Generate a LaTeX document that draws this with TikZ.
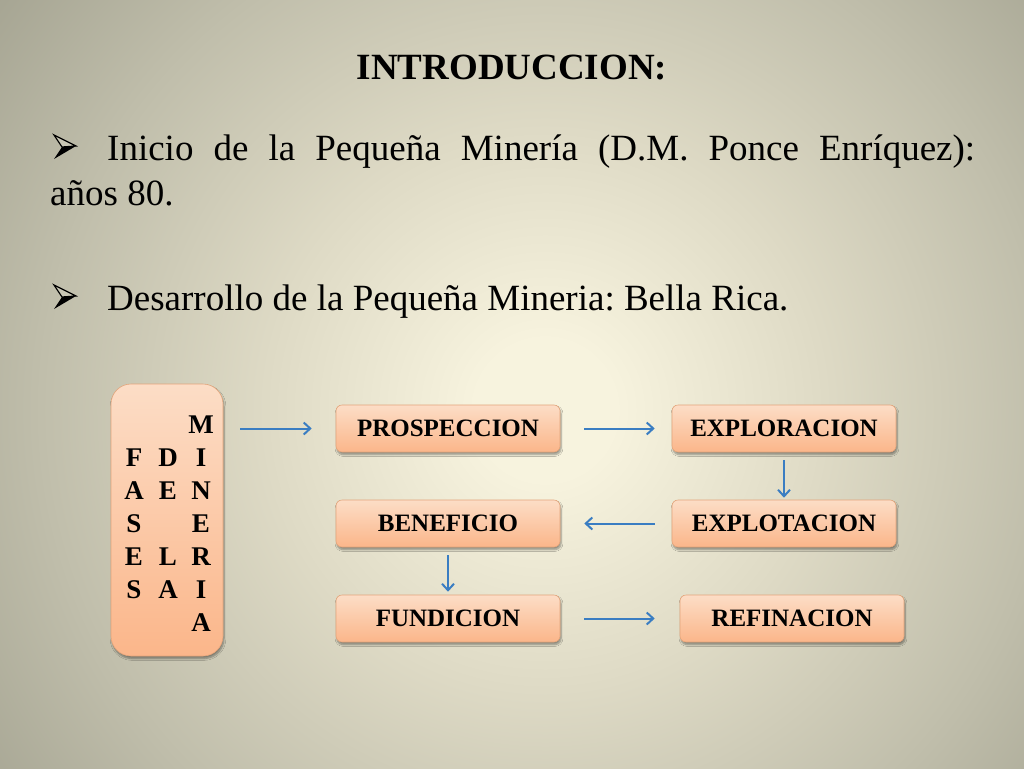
\documentclass[tikz,border=0pt]{standalone}
\usepackage{fontspec}
\setmainfont{Liberation Serif}
\usetikzlibrary{arrows.meta,shadows.blur}
\definecolor{bgin}{HTML}{F7F3DE}
\definecolor{bgmid}{HTML}{DEDAC5}
\definecolor{bgmid2}{HTML}{C0BEAB}
\definecolor{bgout}{HTML}{A4A391}
\definecolor{boxtop}{HTML}{FCDDC6}
\definecolor{boxbot}{HTML}{FBB68A}
\definecolor{boxline}{HTML}{E3A47A}
\definecolor{arrowblue}{HTML}{3A7DC2}
\definecolor{facet}{HTML}{C8C6B4}
\pgfdeclareradialshading{bgshade}{\pgfpoint{0bp}{0bp}}{color(0bp)=(bgin); color(2.5bp)=(bgin); color(10bp)=(bgmid); color(18bp)=(bgmid2); color(25bp)=(bgout); color(50bp)=(bgout)}
\tikzset{
  stage/.style={rounded corners=6pt, minimum width=224pt, minimum height=47pt,
    top color=boxtop, bottom color=boxbot, draw=boxline, line width=0.6pt,
    font=\fontsize{25}{28}\selectfont\bfseries, inner sep=0pt,
    blur shadow={shadow xshift=1pt, shadow yshift=-2.5pt, shadow blur steps=6, shadow opacity=40}},
  fasesbox/.style={rounded corners=20pt, minimum width=112pt, minimum height=272pt,
    top color=boxtop, bottom color=boxbot, draw=boxline, line width=0.6pt, inner sep=0pt,
    blur shadow={shadow xshift=1pt, shadow yshift=-2.5pt, shadow blur steps=6, shadow opacity=40}},
  flow/.style={draw=arrowblue, line width=2pt, -{Straight Barb[length=6.5pt,width=12pt]}},
  letter/.style={font=\fontsize{27}{30}\selectfont\bfseries, anchor=base, inner sep=0pt},
  bodytext/.style={font=\fontsize{37}{40}\selectfont, anchor=base west, inner sep=0pt},
  arrowbullet/.pic={
    \fill[black] (0,0) -- (22,-13) -- (8,-12) -- cycle;
    \filldraw[fill=facet, draw=black, line width=1.2pt, line join=miter] (0,-24) -- (22,-13) -- (8,-12) -- cycle;
  },
}
\begin{document}
\begin{tikzpicture}[x=1pt,y=-1pt]
\useasboundingbox (0,0) rectangle (1024,768);
\fill[bgout] (0,0) rectangle (1024,768);
\begin{scope}
  \clip (0,0) rectangle (1024,768);
  \shade[shading=bgshade] (545,410) circle (700);
\end{scope}

% title and text
\node[font=\fontsize{37}{40}\selectfont\bfseries, anchor=base, inner sep=0pt] (title) at (512,79) {INTRODUCCION:};
\pic at (54,159) {arrowbullet};
\node[bodytext] (t1) at (107,160) {\frenchspacing\makebox[868pt][s]{Inicio de la Pequeña Minería (D.M. Ponce Enríquez):}};
\node[bodytext] (t2) at (50,205) {años 80.};
\pic at (54,309) {arrowbullet};
\node[bodytext] (t3) at (107,310) {\frenchspacing Desarrollo de la Pequeña Mineria: Bella Rica.};

% fases box
\node[fasesbox] (fases) at (167,520) {};
\foreach \ch [count=\i] in {F,A,S,E,S}
  \node[letter] (fa\i) at (134,{466+33*(\i-1)}) {\ch};
\node[letter] (de1) at (168,466) {D};
\node[letter] (de2) at (168,499) {E};
\node[letter] (de3) at (168,565) {L};
\node[letter] (de4) at (168,598) {A};
\foreach \ch [count=\i] in {M,I,N,E,R,I,A}
  \node[letter] (mi\i) at (201,{433+33*(\i-1)}) {\ch};

% stages
\node[stage] (pros) at (448,428.5) {PROSPECCION};
\node[stage] (expl) at (784,428.5) {EXPLORACION};
\node[stage] (benef) at (448,523.5) {BENEFICIO};
\node[stage] (explot) at (784,523.5) {EXPLOTACION};
\node[stage] (fund) at (448,618.5) {FUNDICION};
\node[stage] (ref) at (792,618.5) {REFINACION};

% arrows
\draw[flow, shorten <=17pt, shorten >=24pt] (fases.east |- pros.west) -- (pros.west);
\draw[flow, shorten <=24pt, shorten >=17pt] (pros) -- (expl);
\draw[flow, shorten <=8pt, shorten >=2pt] (expl) -- (explot);
\draw[flow, shorten <=17pt, shorten >=24pt] (explot) -- (benef);
\draw[flow, shorten <=8pt, shorten >=3pt] (benef) -- (fund);
\draw[flow, shorten <=24pt, shorten >=25pt] (fund) -- (ref);
\end{tikzpicture}
\end{document}
